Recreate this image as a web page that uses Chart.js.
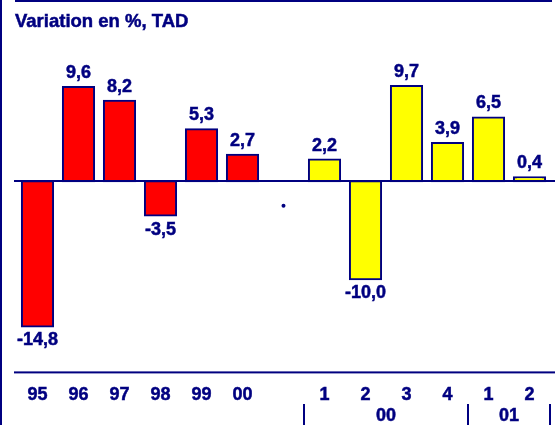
<!DOCTYPE html>
<html>
<head>
<meta charset="utf-8">
<script src="https://cdn.jsdelivr.net/npm/chart.js@4/dist/chart.umd.min.js"></script>
<style>
  html, body { margin: 0; padding: 0; background: #fff; }
  #wrap { position: relative; width: 558px; height: 425px; }
  canvas { display: block; }
</style>
</head>
<body>
<div id="wrap"><canvas id="c" width="558" height="425"></canvas></div>
<script>
const TITLE = 'Variation en %, TAD';
const categories = ['95', '96', '97', '98', '99', '00', '', '1', '2', '3', '4', '1', '2'];
const annualValues = [-14.8, 9.6, 8.2, -3.5, 5.3, 2.7, null, null, null, null, null, null, null];
const quarterlyValues = [null, null, null, null, null, null, null, 2.2, -10.0, 9.7, 3.9, 6.5, 0.4];
const strayDot = [null, null, null, null, null, null, -2.5, null, null, null, null, null, null];
const groups = [
  { label: '00', from: 7, to: 10 },
  { label: '01', from: 11, to: 12 }
];
const separators = [6.5, 10.5, 12.5];

const NAVY = '#000080';
const FONT = '"Liberation Sans", Arial, Helvetica, sans-serif';
const STROKE = 0.5;

function fmt(v) { return v.toFixed(1).replace('.', ','); }

function boldText(ctx, s, x, y) {
  ctx.fillText(s, x, y);
  ctx.strokeText(s, x, y);
}

const decor = {
  id: 'decor',
  beforeDraw(chart) {
    const ctx = chart.ctx;
    ctx.save();
    ctx.fillStyle = NAVY;
    ctx.strokeStyle = NAVY;
    ctx.lineWidth = STROKE;
    ctx.fillRect(0, 0, 2, 425);
    ctx.fillRect(15, 0, 537, 2);
    ctx.font = 'bold 18.5px ' + FONT;
    ctx.textBaseline = 'alphabetic';
    ctx.textAlign = 'left';
    boldText(ctx, TITLE, 15, 27);
    ctx.restore();
  },
  afterDatasetsDraw(chart) {
    const ctx = chart.ctx;
    const x = chart.scales.x, y = chart.scales.y;
    ctx.save();
    ctx.fillStyle = NAVY;
    ctx.strokeStyle = NAVY;
    ctx.lineWidth = STROKE;
    const y0 = y.getPixelForValue(0);
    ctx.fillRect(14, Math.round(y0) - 1, 541, 2);
    ctx.fillRect(14, chart.chartArea.bottom - 1, 541, 2);
    // value labels
    ctx.font = 'bold 18px ' + FONT;
    ctx.textAlign = 'center';
    ctx.textBaseline = 'alphabetic';
    [0, 1].forEach(di => {
      const meta = chart.getDatasetMeta(di);
      const data = chart.data.datasets[di].data;
      meta.data.forEach((el, i) => {
        const v = data[i];
        if (v === null || v === undefined) return;
        if (v >= 0) boldText(ctx, fmt(v), el.x, el.y - 9);
        else boldText(ctx, fmt(v), el.x, el.y + 19);
      });
    });
    // group labels and separators
    const step = x.getPixelForValue(1) - x.getPixelForValue(0);
    separators.forEach(s => {
      const px = Math.round(x.getPixelForValue(Math.floor(s)) + step / 2) - 1;
      ctx.fillRect(px, 404, 2, 21);
    });
    groups.forEach(g => {
      const cx = (x.getPixelForValue(g.from) + x.getPixelForValue(g.to)) / 2;
      boldText(ctx, g.label, cx, 421);
    });
    ctx.restore();
  }
};

const barStyle = {
  borderColor: NAVY,
  borderWidth: 2,
  borderSkipped: false,
  inflateAmount: 1,
  grouped: false,
  barPercentage: 0.76,
  categoryPercentage: 1
};

new Chart(document.getElementById('c'), {
  type: 'bar',
  data: {
    labels: categories,
    datasets: [
      Object.assign({ data: annualValues, backgroundColor: '#FF0000' }, barStyle),
      Object.assign({ data: quarterlyValues, backgroundColor: '#FFFF00' }, barStyle),
      {
        type: 'line',
        data: strayDot,
        showLine: false,
        pointRadius: 2,
        pointBackgroundColor: NAVY,
        pointBorderWidth: 0
      }
    ]
  },
  options: {
    responsive: false,
    animation: false,
    devicePixelRatio: 1,
    layout: { padding: { top: 40, left: 17, right: 8, bottom: 7 } },
    plugins: { legend: { display: false }, tooltip: { enabled: false }, title: { display: false } },
    scales: {
      x: {
        grid: { display: false, drawTicks: false },
        border: { display: false },
        ticks: {
          color: NAVY,
          textStrokeColor: NAVY,
          textStrokeWidth: STROKE,
          font: { family: FONT, size: 18, weight: 'bold' },
          padding: 12,
          maxRotation: 0,
          autoSkip: false
        }
      },
      y: {
        display: false,
        min: -19.49,
        max: 14.39
      }
    }
  },
  plugins: [decor]
});
</script>
</body>
</html>
